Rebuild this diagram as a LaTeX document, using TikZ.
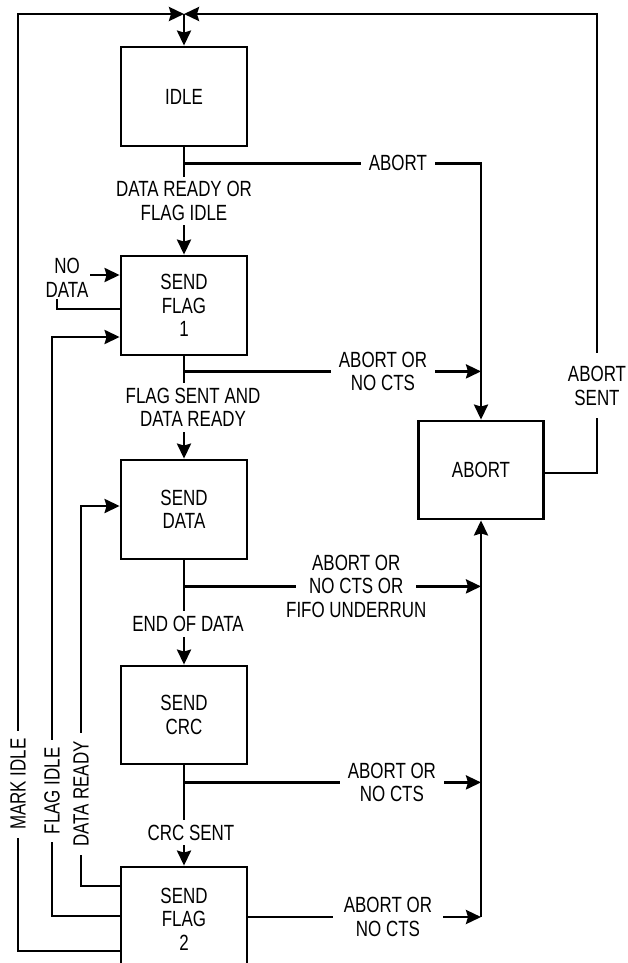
\documentclass[tikz,border=0pt]{standalone}
\usepackage{fontspec}
\setmainfont{Liberation Sans}[FakeStretch=0.77]
\usepackage{tikz}
\usetikzlibrary{arrows.meta, positioning}
\definecolor{txInk}{HTML}{000000}
\tikzset{
  tx-state/.style={
    rectangle, draw=txInk, fill=white, line width=2.8pt,
    minimum width=126pt, minimum height=99pt, align=center,
    inner sep=0pt
  },
  tx-label/.style={
    fill=white, align=center, inner xsep=8pt, inner ysep=5pt
  },
  tx-flow/.style={-{Stealth[length=15pt, width=14pt, inset=2pt]}, line width=2.8pt, draw=txInk},
}

\begin{document}
\begin{tikzpicture}[x=1pt, y=-1pt, font=\fontsize{22}{23.5}\selectfont]
  \clip (0,0) rectangle (628,963);
  \node[tx-state]                                              (idle)  at (184,96.5) {IDLE};
  \node[tx-state, below=107.2pt of idle]                       (flag1) {SEND\\FLAG\\1};
  \node[tx-state, below=102.2pt of flag1]                      (data)  {SEND\\DATA};
  \node[tx-state, below=104.2pt of data, minimum height=98pt]  (crc)   {SEND\\CRC};
  \node[tx-state, below=100.2pt of crc, minimum height=104pt]  (flag2) {SEND\\FLAG\\2};
  \node[tx-state, minimum width=125pt, minimum height=98pt]    (abort) at (481,470) {ABORT};

  \coordinate (top) at (184,14);
  \coordinate (tl)  at (18,14);
  \coordinate (tr)  at (597,14);
  \coordinate (nd)  at (57,275);
  \coordinate (fi)  at (52,337);
  \coordinate (dr)  at (81,506);

  \draw[tx-flow] (top) -- (idle);
  \draw[tx-flow] (idle) -- node[tx-label, inner ysep=4pt]{DATA READY OR\\FLAG IDLE} (flag1);
  \draw[tx-flow] (idle.south) ++(0,16) coordinate (j0) -| node[tx-label, pos=0.36]{ABORT} (abort.north);
  \draw[tx-flow] (flag1) -- node[tx-label, xshift=9pt]{FLAG SENT AND\\DATA READY} (data);
  \draw[tx-flow] (flag1.south) ++(0,15) coordinate (j1) -- node[tx-label, pos=0.67]{ABORT OR\\NO CTS} (j1 -| abort.north);
  \draw[tx-flow] (data) -- node[tx-label, pos=0.61, xshift=4pt]{END OF DATA} (crc);
  \draw[tx-flow] (data.south) ++(0,26) coordinate (j2) -- node[tx-label, pos=0.58, inner xsep=-10pt]{ABORT OR\\NO CTS OR\\FIFO UNDERRUN} (j2 -| abort.south);
  \draw[tx-flow] (crc) -- node[tx-label, pos=0.67, xshift=7pt]{CRC SENT} (flag2);
  \draw[tx-flow] (crc.south) ++(0,17) coordinate (j3) -- node[tx-label, pos=0.7]{ABORT OR\\NO CTS} (j3 -| abort.south);
  \draw[tx-flow] ([yshift=2pt]flag2.east) -- node[tx-label, pos=0.6, inner xsep=11pt]{ABORT OR\\NO CTS} ([yshift=2pt]flag2.east -| abort.south) coordinate (j4);
  \draw[tx-flow] (j4) -- (abort.south);
  \draw[tx-flow] ([yshift=-3pt]abort.east) -| node[tx-label, pos=0.595, inner ysep=13pt]{ABORT\\SENT} (tr) -- (top);

  \draw[tx-flow] ([yshift=-32pt]flag2.west) -| node[tx-label, pos=0.589, rotate=90]{MARK IDLE} (tl) -- (top);
  \draw[tx-flow] ([yshift=3pt]flag2.west) -| node[tx-label, pos=0.608, rotate=90]{FLAG IDLE} (fi) -- (fi -| flag1.west);
  \draw[tx-flow] ([yshift=33pt]flag2.west) -| node[tx-label, pos=0.621, rotate=90]{DATA READY} (dr) -- (dr -| data.west);
  \draw[tx-flow] ([yshift=-3.5pt]flag1.west) -| (nd) -- (nd -| flag1.west);
  \node[tx-label, inner sep=2pt] (nodata) at (67,278) {NO\\DATA};
\end{tikzpicture}
\end{document}
